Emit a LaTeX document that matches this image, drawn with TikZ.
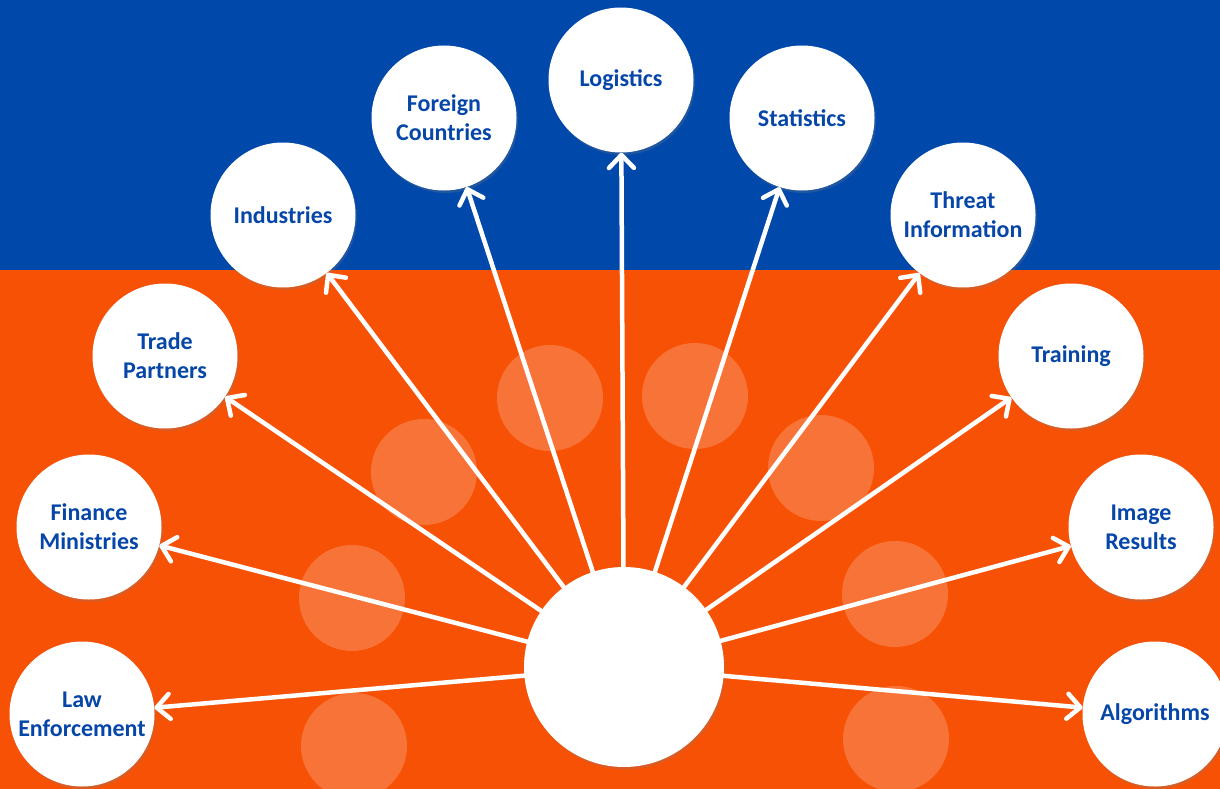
\documentclass[tikz,border=0pt]{standalone}
\usepackage{fontspec}
\setmainfont{Carlito}
\usetikzlibrary{arrows.meta, shadows}
\definecolor{bandblue}{RGB}{0,72,170}
\definecolor{bandorange}{RGB}{247,81,6}
\definecolor{labelblue}{RGB}{6,70,168}

\begin{document}
\begin{tikzpicture}[x=1pt, y=-1pt,
    topic/.style={circle, fill=white, minimum size=145pt, inner sep=0pt, align=center,
      text=labelblue, font=\fontsize{24}{29}\selectfont\bfseries,
      drop shadow={opacity=0.25, shadow xshift=1.5pt, shadow yshift=-2.5pt}},
    hubnode/.style={circle, fill=white, minimum size=200pt, inner sep=0pt,
      drop shadow={opacity=0.25, shadow xshift=1.5pt, shadow yshift=-2.5pt}},
    link/.style={draw=white, line width=4.5pt, line cap=round,
      -{Straight Barb[length=13pt, width=25pt, round]}},
    glow/.style={fill=white, opacity=0.2}]
  \useasboundingbox (0,0) rectangle (1220,789);

  % background bands
  \fill[bandblue] (0,0) rectangle (1220,270);
  \fill[bandorange] (0,270) rectangle (1220,789);
  \foreach \x/\y in {550/398, 695/396, 424/472, 821/468, 352/598, 895/594, 354/746, 896/739}
    \fill[glow] (\x,\y) circle (53pt);

  \node[hubnode] (hub) at (624,667) {};

  \node[topic] (law) at (82,714) {Law\\Enforcement};
  \node[topic] (finance) at (89,527) {Finance\\Ministries};
  \node[topic] (trade) at (165,356) {Trade\\Partners};
  \node[topic] (industries) at (283,215) {Industries};
  \node[topic] (foreign) at (444,118) {Foreign\\Countries};
  \node[topic] (logistics) at (621,80) {Logistics};
  \node[topic] (statistics) at (802,118) {Statistics};
  \node[topic] (threat) at (963,215) {Threat\\Information};
  \node[topic] (training) at (1071,356) {Training};
  \node[topic] (image) at (1141,527) {Image\\Results};
  \node[topic] (algorithms) at (1155,714) {Algorithms};

  \foreach \t in {law, finance, trade, industries, foreign, logistics, statistics, threat, training, image, algorithms}
    \draw[link] (hub) -- (\t);
\end{tikzpicture}
\end{document}
